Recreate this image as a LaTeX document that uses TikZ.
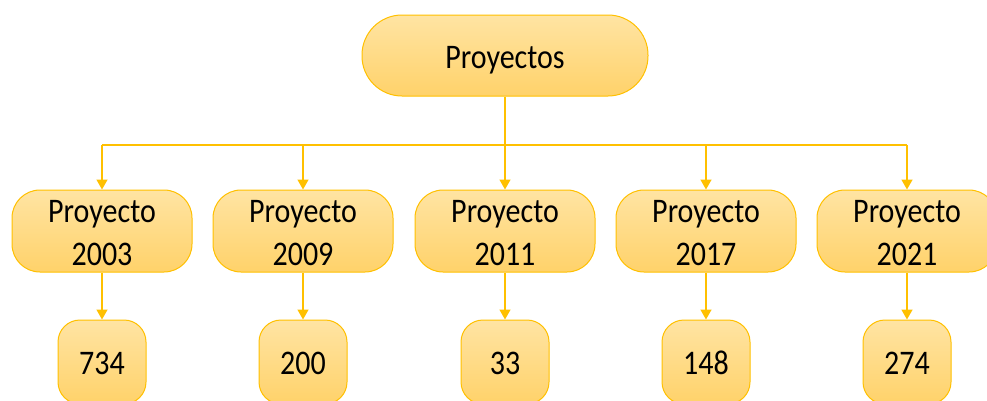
\documentclass[tikz,border=0pt]{standalone}
\usepackage{fontspec}
\setmainfont{Carlito}
\usetikzlibrary{arrows.meta}
\definecolor{gold}{HTML}{FFC000}
\definecolor{boxtop}{HTML}{FFE4A3}
\definecolor{boxbot}{HTML}{FFD26A}
\newcommand{\tallt}[1]{\raisebox{-4pt}[\dimexpr\height-4pt][\dimexpr\depth-4pt]{\scalebox{1}[1.15]{\begin{tabular}{@{}c@{}}#1\end{tabular}}}}
\tikzset{
  boxbase/.style={draw=gold, line width=1pt, top color=boxtop, bottom color=boxbot,
    inner sep=0pt, align=center, font=\fontsize{30}{37.5}\selectfont, text=black},
  topbox/.style={boxbase, minimum width=286pt, minimum height=81pt, rounded corners=40pt},
  projbox/.style={boxbase, minimum width=180pt, minimum height=82pt, rounded corners=28pt},
  numbox/.style={boxbase, minimum width=88pt, minimum height=84pt, rounded corners=22pt},
  conn/.style={draw=gold, line width=1.5pt},
  arr/.style={conn, -{Triangle[width=11pt,length=10pt]}}
}
\begin{document}
\begin{tikzpicture}[x=1pt,y=-1pt]
\useasboundingbox (0,0) rectangle (987,400);
\node[topbox] (top) at (505,55.5) {\tallt{Proyectos}};
\coordinate (j) at (505,145);
\draw[conn] (top.south) -- (j);
\foreach \i/\x/\yr/\n in {1/102/2003/734, 2/303/2009/200, 3/505/2011/33, 4/706/2017/148, 5/907/2021/274}{
  \node[projbox] (p\i) at (\x,231) {\tallt{Proyecto\\\yr}};
  \node[numbox] (n\i) at (\x,362) {\tallt{\n}};
  \coordinate (h\i) at (\x,145);
  \draw[arr] (h\i) -- (p\i.north);
  \draw[arr] (p\i.south) -- (n\i.north);
}
\draw[conn] (h1) -- (h5);
\end{tikzpicture}
\end{document}
